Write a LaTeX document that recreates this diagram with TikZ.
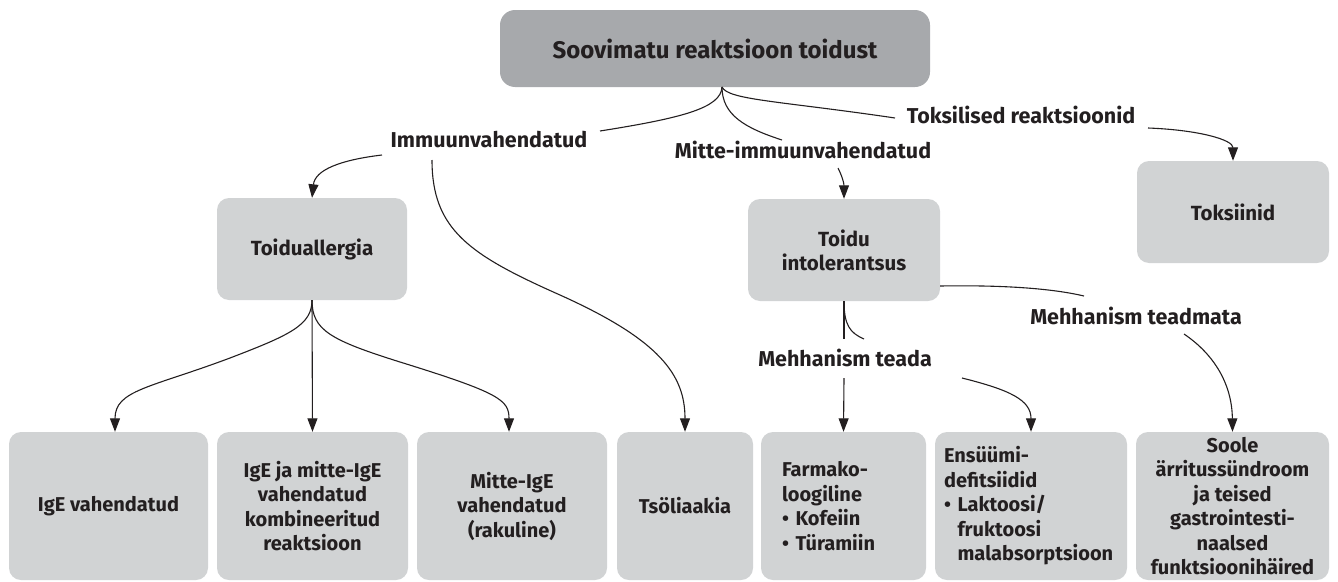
\documentclass[tikz,border=0pt]{standalone}
\usepackage{fontspec}
\setmainfont{Fira Sans}
\usetikzlibrary{arrows.meta}
\definecolor{topgray}{HTML}{A7A9AC}
\definecolor{boxgray}{HTML}{D1D3D4}
\definecolor{ink}{HTML}{231F20}
\begin{document}
\begin{tikzpicture}[x=1pt,y=-1pt,
  topbox/.style={fill=topgray, rounded corners=15pt, minimum width=430pt, minimum height=77pt,
    font=\bfseries\fontsize{24}{29}\selectfont, text=ink},
  gbox/.style={fill=boxgray, rounded corners=12pt, align=center, inner sep=2pt,
    font=\bfseries\fontsize{20.5}{24}\selectfont, text=ink},
  bbox/.style={gbox, minimum height=148pt, font=\bfseries\fontsize{20}{24.5}\selectfont},
  lab/.style={font=\bfseries\fontsize{21.5}{25}\selectfont, text=ink, inner sep=0pt},
  conn/.style={draw=ink, line width=1.1pt},
  arr/.style={conn, -{Triangle[length=13.5pt,width=10pt]}}]
\useasboundingbox (0,0) rectangle (1338,581);
% boxes
\node[topbox] (top) at (715,48.5) {Soovimatu reaktsioon toidust};
\node[gbox, minimum width=190pt, minimum height=102pt] (ta) at (312,249) {Toiduallergia};
\node[gbox, minimum width=192pt, minimum height=102pt] (ti) at (844,250) {Toidu\\intolerantsus};
\node[gbox, minimum width=192pt, minimum height=102pt] (tox) at (1233,212) {Toksiinid};
\node[bbox, minimum width=199pt] (b1) at (108.5,506) {IgE vahendatud};
\node[bbox, minimum width=191pt] (b2) at (312.5,506) {IgE ja mitte-IgE\\vahendatud\\kombineeritud\\reaktsioon};
\node[bbox, minimum width=190pt] (b3) at (512,506) {Mitte-IgE\\vahendatud\\(rakuline)};
\node[bbox, minimum width=136pt] (b4) at (685,506) {Tsöliaakia};
\node[bbox, minimum width=165pt, align=left, text width=123pt, inner xsep=21pt] (b5) at (843.5,506)
  {Farmako-\\loogiline\\\textbullet\ Kofeiin\\\textbullet\ Türamiin};
\node[bbox, minimum width=192pt, align=left, text width=174pt, inner xsep=9pt] (b6) at (1031,506)
  {Ensüümi-\\defitsiidid\\\textbullet\ Laktoosi/\\\hphantom{\textbullet\ }fruktoosi\\\hphantom{\textbullet\ }malabsorptsioon};
\node[bbox, minimum width=193pt] (b7) at (1232.5,506) {Soole\\ärritussündroom\\ja teised\\gastrointesti-\\naalsed\\funktsioonihäired};
% labels
\node[lab] (imm) at (489,140) {Immuunvahendatud};
\node[lab] (mit) at (803,150) {Mitte-immuunvahendatud};
\node[lab] (tks) at (1021,115) {Toksilised reaktsioonid};
\node[lab] (mt) at (1136,316) {Mehhanism teadmata};
\node[lab] (mk) at (845,358) {Mehhanism teada};
% connector ends
\coordinate (o) at (722,87);
\coordinate (immE) at (600,131);
\coordinate (immL) at (382,155);
\coordinate (immB) at (432,160);
\coordinate (mitN) at (782,140);
\coordinate (mitB) at (838,168);
\coordinate (tksW) at (895,118);
\coordinate (tksE) at (1148,128);
\coordinate (tiR) at (940,286);
\coordinate (mtW) at (1084,296);
\coordinate (mtE) at (1184,334);
\coordinate (mkN) at (844,339);
\coordinate (mkNE) at (864,339);
\coordinate (mkS) at (844,378);
\coordinate (mkSE) at (962,378);
% connectors from top
\draw[conn] (o) .. controls (721,108) and (682,118) .. (immE);
\draw[conn] (o) .. controls (722,115) and (745,128) .. (mitN);
\draw[conn] (o) .. controls (728,100) and (780,101) .. (tksW);
\draw[arr] (immL) .. controls (340,160) and (315,170) .. (ta.north);
\draw[arr] (immB) .. controls (432,230) and (470,255) .. (560,295) .. controls (660,340) and (685,375) .. (b4.north);
\draw[arr] (mitB) .. controls (842,176) and (844,183) .. (ti.north);
\draw[arr] (tksE) .. controls (1200,130) and (1233,140) .. (tox.north);
% Toiduallergia fan
\draw[arr] (ta.south) .. controls (312,325) and (290,335) .. (230,358) .. controls (150,388) and (115,390) .. ([xshift=6.5pt]b1.north);
\draw[arr] (ta.south) -- (b2.north);
\draw[arr] (ta.south) .. controls (312,330) and (330,340) .. (400,362) .. controls (500,393) and (509,400) .. ([xshift=-3pt]b3.north);
% Toidu intolerantsus
\draw[conn] (ti.south) -- (mkN);
\draw[arr] (mkS) -- (b5.north);
\draw[conn] (ti.south) .. controls (844,325) and (850,333) .. (mkNE);
\draw[arr] (mkSE) .. controls (1010,390) and (1031,400) .. (b6.north);
\draw[conn] (tiR) .. controls (1000,285) and (1050,288) .. (mtW);
\draw[arr] (mtE) .. controls (1215,355) and (1232,385) .. (b7.north);
\end{tikzpicture}
\end{document}
